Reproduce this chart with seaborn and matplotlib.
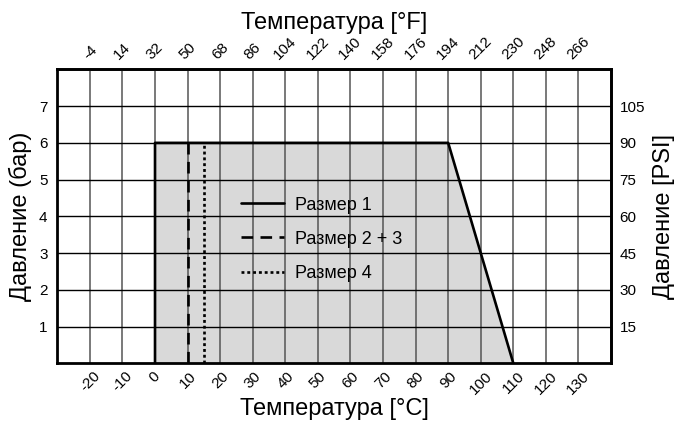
import numpy as np
import pandas as pd
import seaborn as sns
import matplotlib.pyplot as plt
from matplotlib.lines import Line2D

sns.set_style('white')
plt.rcParams['font.family'] = ['Liberation Sans', 'DejaVu Sans']
plt.rcParams['axes.unicode_minus'] = False
plt.rcParams['text.color'] = 'black'
plt.rcParams['axes.labelcolor'] = 'black'
plt.rcParams['xtick.color'] = 'black'
plt.rcParams['ytick.color'] = 'black'

# envelope of the working range (°C, bar)
env_temp = [0, 0, 90, 110]
env_press = [0, 6, 6, 0]
# size 2+3 and size 4 limits
size23_temp = [10, 10]
size23_press = [0, 6]
size4_temp = [15, 15]
size4_press = [0, 6]

c_ticks = [-20, -10, 0, 10, 20, 30, 40, 50, 60, 70, 80, 90, 100, 110, 120, 130]
f_ticks = [-4, 14, 32, 50, 68, 86, 104, 122, 140, 158, 176, 194, 212, 230, 248, 266]
bar_ticks = [1, 2, 3, 4, 5, 6, 7]
psi_ticks = [15, 30, 45, 60, 75, 90, 105]
labels = ['Размер 1', 'Размер 2 + 3', 'Размер 4']

fig = plt.figure(figsize=(6.82, 4.23), dpi=100)
ax = fig.add_axes([0.084, 0.141, 0.812, 0.695])

ax.fill_between(env_temp, env_press, 0, color='#d9d9d9', zorder=0.2, lw=0)

df1 = pd.DataFrame({'t': env_temp, 'p': env_press})
sns.lineplot(data=df1, x='t', y='p', sort=False, estimator=None, color='black', lw=1.9, ax=ax, zorder=3)
sns.lineplot(x=size23_temp, y=size23_press, estimator=None, color='black', lw=1.9,
             ax=ax, zorder=3).lines[-1].set_dashes((4.4, 2.8))
sns.lineplot(x=size4_temp, y=size4_press, estimator=None, color='black', lw=1.9,
             ax=ax, zorder=3).lines[-1].set_dashes((1.1, 1.1))

ax.set_xlim(-30, 140)
ax.set_ylim(0, 8)
ax.set_xticks(c_ticks)
ax.set_yticks(bar_ticks)
ax.set_axisbelow(True)
ax.xaxis.grid(True, color='#555555', lw=1.1)
ax.yaxis.grid(True, color='black', lw=1.0)
for s in ax.spines.values():
    s.set_linewidth(2)
    s.set_color('black')
ax.tick_params(length=0, labelsize=11, pad=7)
ax.tick_params(axis='x', pad=4)
for lab in ax.get_xticklabels():
    lab.set_rotation(45)
    lab.set_ha('center')
    lab.set_va('top')
ax.set_xlabel('Температура [°C]', fontsize=17, labelpad=1)
ax.set_ylabel('Давление (бар)', fontsize=17, labelpad=5)

top = ax.secondary_xaxis('top', functions=(lambda c: c * 1.8 + 32, lambda f: (f - 32) / 1.8))
top.set_xticks(f_ticks)
top.tick_params(length=0, labelsize=11, pad=5)
for lab in top.get_xticklabels():
    lab.set_rotation(45)
    lab.set_ha('center')
    lab.set_va('bottom')
top.set_xlabel('Температура [°F]', fontsize=17, labelpad=4)
top.spines['top'].set_linewidth(2)

right = ax.secondary_yaxis('right', functions=(lambda b: b * 15, lambda p: p / 15))
right.set_yticks(psi_ticks)
right.tick_params(length=0, labelsize=11, pad=6)
right.set_ylabel('Давление [PSI]', fontsize=17, labelpad=6)
right.spines['right'].set_linewidth(2)

handles = [Line2D([], [], color='black', lw=1.9),
           Line2D([], [], color='black', lw=1.9, dashes=(4.4, 2.8)),
           Line2D([], [], color='black', lw=1.9, dashes=(1.1, 1.1))]
ax.legend(handles, labels, loc='center left', bbox_to_anchor=(0.332, 0.422),
          frameon=False, fontsize=13, handlelength=2.35, handletextpad=0.65,
          labelspacing=0.95, borderpad=0, borderaxespad=0)

fig.savefig('out.png', dpi=100)
